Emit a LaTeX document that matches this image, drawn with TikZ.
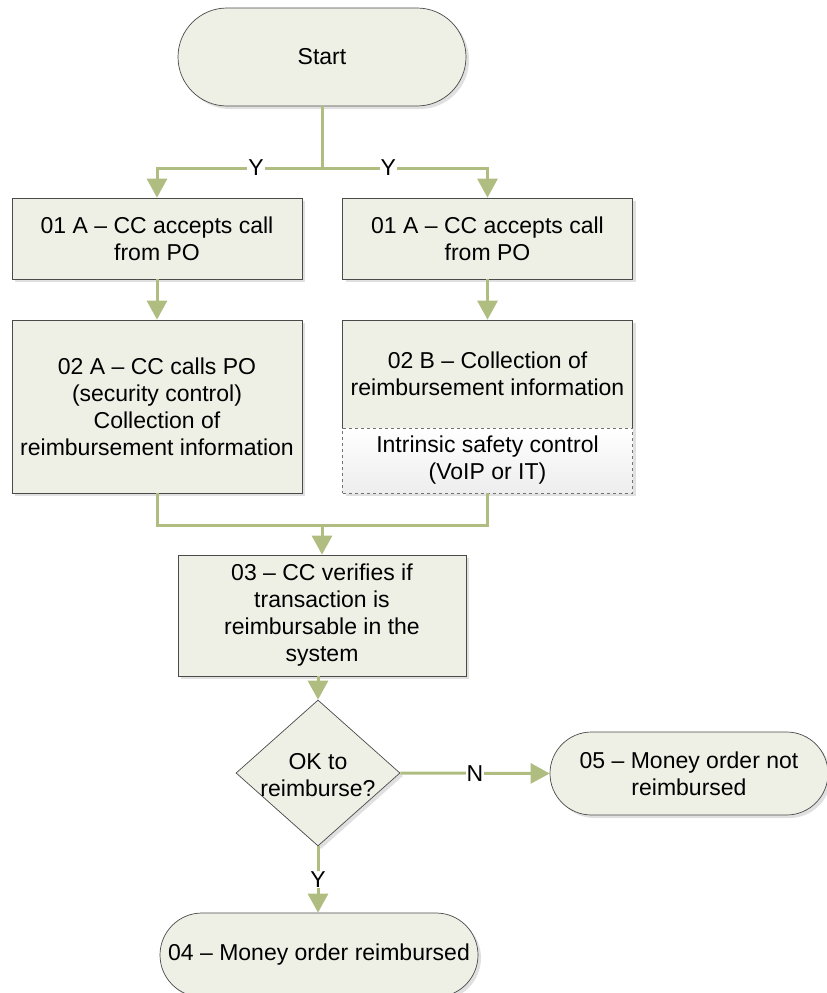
\documentclass[tikz,border=0pt]{standalone}
\usepackage{fontspec}
\setmainfont{Liberation Sans}
\usetikzlibrary{shapes.geometric,arrows.meta,shadows}
\definecolor{boxfill}{HTML}{EEF0E6}
\definecolor{flow}{HTML}{AFBD80}
\definecolor{edge}{HTML}{4A4A4A}
\tikzset{
  base/.style={draw=edge, line width=0.7pt, fill=boxfill, align=center,
    font=\fontsize{23}{27}\selectfont, inner sep=0pt,
    drop shadow={shadow xshift=3pt, shadow yshift=-3pt, opacity=0.12, fill=black}},
  procbox/.style={base, minimum width=290pt},
  term/.style={base},
  dashbox/.style={draw=black!55, dashed, line width=0.7pt, align=center,
    top color=white, bottom color=black!7, minimum width=290pt, minimum height=65pt,
    font=\fontsize{23}{27}\selectfont, inner sep=0pt,
    drop shadow={shadow xshift=3pt, shadow yshift=-3pt, opacity=0.12, fill=black}},
  decision/.style={base, diamond, minimum width=164pt, minimum height=146pt},
  flowline/.style={draw=flow, line width=3pt},
  arr/.style={flowline, -{Triangle[width=20pt,length=19pt]}},
  lbl/.style={fill=white, inner sep=1pt, font=\fontsize{23}{27}\selectfont}
}
\begin{document}
\begin{tikzpicture}[x=1pt,y=-1pt]
\useasboundingbox (0,0) rectangle (827,993);

% terminals and process steps
\node[term, minimum width=288pt, minimum height=98pt, rounded corners=49pt] (start) at (322,57) {Start};
\node[procbox, minimum height=81pt] (a1) at (157,238.5) {01 A -- CC accepts call\\from PO};
\node[procbox, minimum height=81pt] (b1) at (487.5,238.5) {01 A -- CC accepts call\\from PO};
\node[procbox, minimum height=173pt] (a2) at (157,406.5) {02 A -- CC calls PO\\(security control)\\Collection of\\reimbursement information};
\node[procbox, minimum height=108pt] (b2) at (487.5,374) {02 B -- Collection of\\reimbursement information};
\node[dashbox] (b2s) at (487.5,460.5) {Intrinsic safety control\\(VoIP or IT)};
\node[procbox, minimum width=288pt, minimum height=121pt] (v3) at (322,615.5) {03 -- CC verifies if\\transaction is\\reimbursable in the\\system};
\node[decision] (ok) at (318,773) {};
\node[align=center, font=\fontsize{23}{27}\selectfont] (oktext) at (318,775) {OK to\\reimburse?};
\node[term, minimum width=278pt, minimum height=83pt, rounded corners=41.5pt] (r5) at (689,773.5) {05 -- Money order not\\reimbursed};
\node[term, minimum width=318pt, minimum height=84pt, rounded corners=42pt] (r4) at (319,955) {04 -- Money order reimbursed};

% connectors
\coordinate (split) at (322,168);
\coordinate (merge) at (322,525);
\draw[flowline] (start.south) -- (split);
\draw[arr] (split) -| node[lbl, pos=0.2] {Y} (a1.north);
\draw[arr] (split) -| node[lbl, pos=0.2] {Y} (b1.north);
\draw[arr] (a1.south) -- (a2.north);
\draw[arr] (b1.south) -- (b2.north);
\draw[flowline] (a2.south) |- (merge);
\draw[flowline] (b2s.south) |- (merge);
\draw[arr] (merge) -- (v3.north);
\draw[arr] (v3.south -| ok.north) -- (ok.north);
\draw[arr] (ok.east) -- node[lbl] {N} (r5.west);
\draw[arr] (ok.south) -- node[lbl] {Y} (ok.south |- r4.north);
\end{tikzpicture}
\end{document}
